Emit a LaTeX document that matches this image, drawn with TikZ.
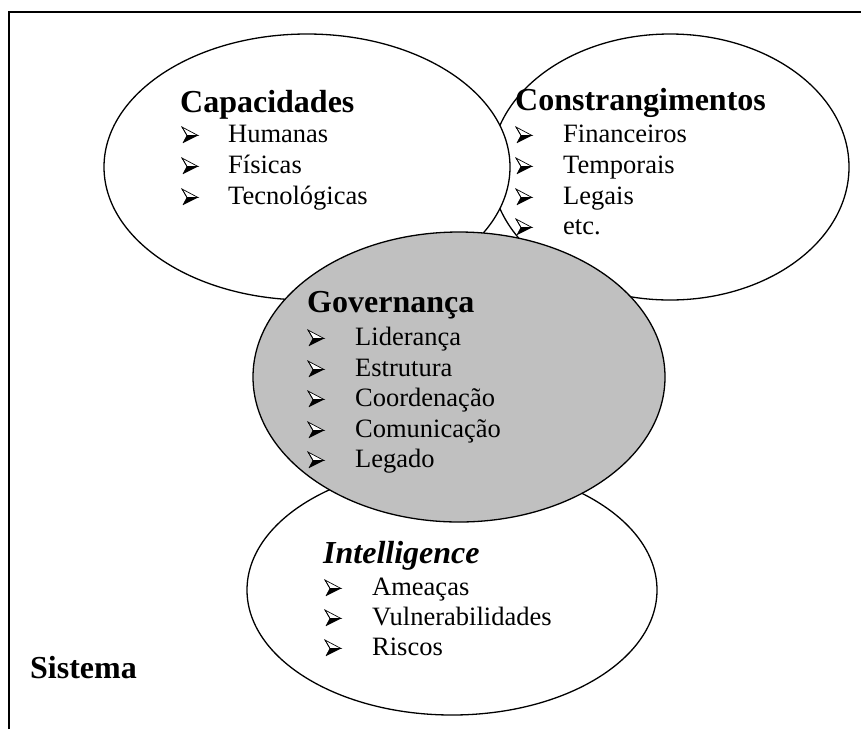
\documentclass[tikz,border=0pt]{standalone}
\usepackage{fontspec}
\setmainfont{Liberation Serif}
\usetikzlibrary{shapes.geometric}

\definecolor{govgray}{RGB}{192,192,192}
\tikzset{
  area/.style={ellipse, draw=black, line width=1.3pt, fill=white, inner sep=0pt},
  core/.style={area, fill=govgray},
  heading/.style={anchor=base west, inner sep=0pt, font=\fontsize{32}{36}\selectfont\bfseries},
  item/.style={anchor=base west, inner sep=0pt, font=\fontsize{26.5}{30}\selectfont},
  frame/.style={line width=1.6pt},
  % three-dimensional arrowhead bullet, origin at the baseline
  arrowbul/.pic={
    \fill[white, draw=black, line width=0.7pt, line join=miter]
      (0,-15) -- (16,-6.5) -- (5,-6.5) -- cycle;
    \fill[black] (5,-6.5) -- (16,-6.5) -- (1,1) -- cycle;
    \draw[black, line width=0.7pt] (0,-15) -- (5,-6.5) -- (1,1);
  }
}

% one bullet line: arrow at x1, text at x2, baseline y
\newcommand{\bulletline}[5]{%
  \pic (#1b) at (#2,#4) {arrowbul};
  \node[item] (#1t) at (#3,#4) {#5};
}

\begin{document}
\begin{tikzpicture}[x=1pt,y=-1pt]
\useasboundingbox (0,0) rectangle (861,729);

% outer frame (top and left sides only)
\coordinate (fbl) at (9,729);
\coordinate (ftl) at (9,12);
\coordinate (ftr) at (861,12);
\draw[frame] (fbl) -- (ftl) -- (ftr);

% areas
\node[area, minimum width=358pt, minimum height=266pt] (constr) at (670,167) {};
\node[area, minimum width=406pt, minimum height=266pt] (capac) at (307,167) {};
\node[area, minimum width=410pt, minimum height=250pt] (intel) at (452,590) {};
\node[core, minimum width=412pt, minimum height=290pt] (gov) at (459,377) {};

% Capacidades
\node[heading] (capT) at (180,112) {Capacidades};
\bulletline{c1}{182}{228}{142}{Humanas}
\bulletline{c2}{182}{228}{173}{Físicas}
\bulletline{c3}{182}{228}{204}{Tecnológicas}

% Constrangimentos
\node[heading] (conT) at (515,110) {Constrangimentos};
\bulletline{k1}{516}{563}{142}{Financeiros}
\bulletline{k2}{516}{563}{173}{Temporais}
\bulletline{k3}{516}{563}{204}{Legais}
\bulletline{k4}{516}{563}{234}{etc.}

% Governança
\node[heading] (govT) at (307,312) {Governança};
\bulletline{g1}{308}{355}{345}{Liderança}
\bulletline{g2}{308}{355}{376}{Estrutura}
\bulletline{g3}{308}{355}{406}{Coordenação}
\bulletline{g4}{308}{355}{437}{Comunicação}
\bulletline{g5}{308}{355}{467}{Legado}

% Intelligence
\node[heading, font=\fontsize{32}{36}\selectfont\bfseries\itshape] (intT) at (323,563) {Intelligence};
\bulletline{i1}{325}{372}{595}{Ameaças}
\bulletline{i2}{325}{372}{625}{Vulnerabilidades}
\bulletline{i3}{325}{372}{655}{Riscos}

% system label
\node[heading] (sis) at (30,678) {Sistema};
\end{tikzpicture}
\end{document}
